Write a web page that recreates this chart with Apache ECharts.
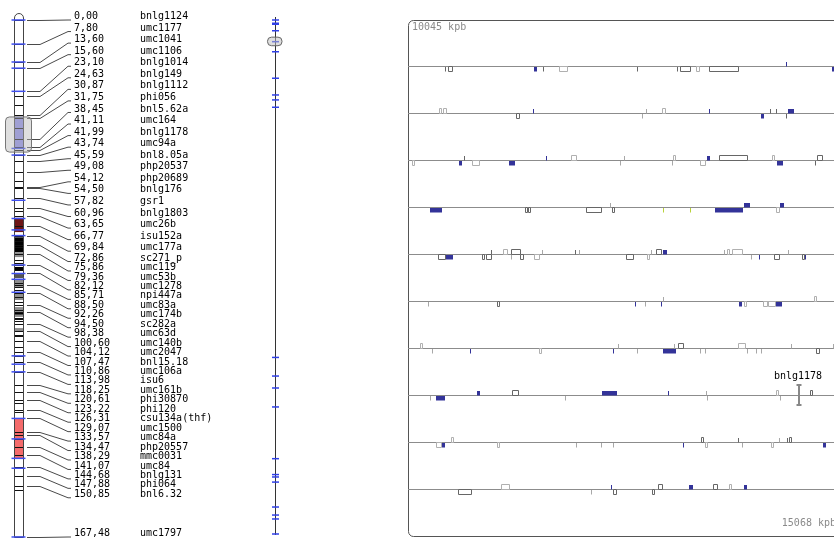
<!DOCTYPE html>
<html><head><meta charset="utf-8">
<script src="https://cdn.jsdelivr.net/npm/echarts@6/dist/echarts.min.js"></script>
<style>html,body{margin:0;padding:0;background:#fff}#c{width:834px;height:540px}</style>
</head><body><div id="c"></div>
<script>
// ---------- genetic map (cM) ----------
const markerCM = [0.00,7.80,13.60,15.60,23.10,24.63,30.87,31.75,38.45,41.11,41.99,43.74,45.59,49.08,54.12,54.50,57.82,60.96,63.65,66.77,69.84,72.86,75.86,79.36,82.12,85.71,88.50,92.26,94.50,98.38,100.60,104.12,107.47,110.86,113.98,118.25,120.61,123.22,126.31,129.07,133.57,134.47,138.29,141.07,144.68,147.88,150.85,167.48];
const markerNames = ['bnlg1124','umc1177','umc1041','umc1106','bnlg1014','bnlg149','bnlg1112','phi056','bnl5.62a','umc164','bnlg1178','umc94a','bnl8.05a','php20537','php20689','bnlg176','gsr1','bnlg1803','umc26b','isu152a','umc177a','sc271_p','umc119','umc53b','umc1278','npi447a','umc83a','umc174b','sc282a','umc63d','umc140b','umc2047','bnl15.18','umc106a','isu6','umc161b','phi30870','phi120','csu134a(thf)','umc1500','umc84a','php20557','mmc0031','umc84','bnlg131','phi064','bnl6.32','umc1797'];
const chromLenCM = 167.48;
const unlabeledCM = [27.5,35.0,52.0,58.4,62.0,71.5,73.5,77.8,78.6,85.3,86.5,87.5,89.6,91.5,93.8,96.5,96.8,97.6,102.0,102.5,106.0,108.8,124.1,127.0,135.7,142.0,152.3];
const anchoredCM = [0,7.8,13.6,15.6,23.1,41.6,43.74,58.4,64.3,68.0,69.84,79.36,82.12,84.0,88.2,108.8,111.5,113.98,129.07,135.7,142.0,145.2,167.48];
// bands: [startCM, endCM, typeIndex]
const bandStart = [31.4,64.1,70.4,75.2,80.0,82.3,84.2,88.4,93.0,94.8,99.8,129.07];
const bandEnd   = [41.6,68.7,75.2,76.8,81.3,83.6,86.8,90.7,96.2,95.4,101.0,141.9];
const bandType  = [0,1,2,4,2,3,4,4,4,2,4,5];
const regionCM = [31.4,42.8];

// ---------- physical map (Mb) ----------
const chromLenMb = 301;
const physTicksMb = [0,1.9,2.5,6.3,12.7,18.6,34.1,43.9,46.8,51.1,197.6,208.5,215.5,226.6,256.9,266.2,267.6,270.6,285.2,289.9,292.2,301];

// ---------- region view (kbp) ----------
const regionKbp = [10045,15068];
const rowCount = 10;
// genes per row: [startKb, endKb, strand(+1 above / -1 below), kind(0 blue,1 dark,2 light,3 yellow)]
const track1 = [[440,441,1,0],[43,44,-1,1],[46,52,-1,1],[147,150,-1,0],[157,158,-1,1],[176,186,-1,2],[266,267,-1,1],[313,314,-1,1],[316,329,-1,1],[335,340,-1,2],[350,385,-1,1],[493,496,-1,0]];
const track2 = [[36,40,1,2],[41,46,1,2],[145,147,1,0],[277,278,1,2],[295,300,1,2],[350,352,1,0],[421,422,1,1],[428,429,1,1],[442,449,1,0],[126,131,-1,1],[272,273,-1,2],[411,414,-1,0],[440,441,-1,1]];
const track3 = [[65,66,1,1],[160,162,1,0],[189,196,1,2],[251,252,1,2],[308,311,1,2],[348,351,1,0],[362,396,1,1],[423,426,1,2],[476,483,1,1],[5,8,-1,2],[59,63,-1,0],[74,83,-1,2],[118,125,-1,0],[246,247,-1,2],[307,308,-1,2],[340,347,-1,2],[429,436,-1,0],[473,474,-1,1]];
const track4 = [[235,236,1,2],[391,398,1,0],[433,438,1,0],[26,40,-1,0],[136,140,-1,1],[140,144,-1,1],[207,226,-1,1],[237,241,-1,1],[297,298,-1,3],[328,329,-1,3],[357,390,-1,0],[428,433,-1,2]];
const track5 = [[97,98,1,1],[110,116,1,2],[120,132,1,1],[156,157,1,2],[194,195,1,1],[199,200,1,2],[282,283,1,2],[288,295,1,1],[296,301,1,0],[368,370,1,2],[371,374,1,2],[377,390,1,2],[442,443,1,2],[35,44,-1,1],[44,52,-1,0],[86,90,-1,1],[91,98,-1,1],[120,121,-1,2],[130,135,-1,1],[147,154,-1,2],[253,262,-1,1],[278,282,-1,2],[399,400,-1,2],[408,409,-1,0],[425,432,-1,1],[458,462,-1,1],[462,464,-1,0]];
const track6 = [[297,298,1,2],[472,476,1,2],[23,25,-1,2],[104,107,-1,1],[264,265,-1,0],[276,277,-1,2],[294,295,-1,0],[385,389,-1,0],[391,394,-1,2],[413,419,-1,2],[419,428,-1,2],[428,435,-1,0]];
const track7 = [[14,17,1,2],[244,245,1,2],[309,310,1,2],[314,321,1,1],[384,393,1,2],[445,446,1,2],[494,495,1,2],[28,29,-1,2],[72,73,-1,0],[152,155,-1,2],[238,239,-1,0],[266,267,-1,2],[297,312,-1,0],[340,341,-1,2],[345,346,-1,2],[394,395,-1,2],[405,406,-1,2],[410,411,-1,2],[474,479,-1,1]];
const track8 = [[80,84,1,0],[121,129,1,1],[225,243,1,0],[302,304,1,0],[347,348,1,2],[428,431,1,2],[467,470,1,1],[26,28,-1,2],[33,44,-1,0],[182,184,-1,2],[348,349,-1,2],[433,434,-1,2]];
const track9 = [[50,54,1,2],[341,345,1,1],[384,386,1,1],[431,433,1,2],[441,443,1,1],[443,446,1,1],[32,39,-1,2],[39,43,-1,0],[103,106,-1,2],[195,196,-1,2],[224,225,-1,2],[238,239,-1,2],[320,321,-1,0],[345,349,-1,2],[388,389,-1,2],[422,425,-1,2],[482,485,-1,0]];
const track10 = [[108,118,1,2],[236,237,1,0],[291,297,1,1],[327,332,1,0],[355,361,1,1],[373,377,1,2],[391,394,1,0],[58,74,-1,1],[213,214,-1,2],[238,243,-1,1],[284,287,-1,1]];
const regionMarkerNames = ['bnlg1178'];
const regionMarkerRow = [7];
const regionMarkerKb = [455];

// ---------- styles ----------
const FONT = '10px "DejaVu Sans Mono", monospace';
const BAND_COLORS = ['#8a8aea','#6e1616','#000000','#555555','#8f8f8f','#f46b6b'];
const GENE_STYLE = [
  {fill:'#333399', tick:'#333399'},
  {stroke:'#666666', tick:'#666666'},
  {stroke:'#b0b0b0', tick:'#a8a8a8'},
  {fill:'#b8d23a', tick:'#b8d23a'}
];
const X = {chromL:14, chromR:23, conn0:27, conn1:40, conn2:68, conn3:71, numX:74, nameX:140, phys:275};
const LABEL_MIN_GAP = 9.45, LABEL_PREF_GAP = 11.56;

const rowLen = (regionKbp[1]-regionKbp[0])/rowCount;
const tracks = [track1,track2,track3,track4,track5,track6,track7,track8,track9,track10];
const geneData = [];
tracks.forEach((t,r)=>t.forEach(g=>geneData.push([r,g[0],g[1],g[2],g[3]])));
const fmt = v => v.toFixed(2).replace('.', ',');

// label layout: packed top-down (never closer than min gap), but stacked at the
// preferred gap from the top whenever that keeps a label above its packed slot
let labelY = null;
function layoutLabels(api){
  if (labelY) return labelY;
  const t = markerCM.map(c => api.coord([0,c])[1]);
  const n = t.length, p = [];
  for (let i=0;i<n;i++) p[i] = i ? Math.max(t[i], p[i-1]+LABEL_MIN_GAP) : t[i];
  labelY = p.map((v,i)=> i===n-1 ? v : Math.min(v, t[0]+i*LABEL_PREF_GAP));
  return labelY;
}

const chart = echarts.init(document.getElementById('c'));
const hidden = {show:false};
const option = {
  backgroundColor:'#fff',
  animation:false,
  grid:[
    {left:0, top:20, width:834, height:517, outerBoundsMode:'none', containLabel:false},
    {left:0, top:20, width:834, height:514, outerBoundsMode:'none', containLabel:false},
    {left:408, top:20, width:432, height:517, outerBoundsMode:'none', containLabel:false}
  ],
  xAxis:[
    {type:'value', gridIndex:0, min:0, max:834, ...hidden},
    {type:'value', gridIndex:1, min:0, max:834, ...hidden},
    {type:'value', gridIndex:2, min:0, max:rowLen, ...hidden}
  ],
  yAxis:[
    {type:'value', gridIndex:0, min:0, max:chromLenCM, inverse:true, ...hidden},
    {type:'value', gridIndex:1, min:0, max:chromLenMb, inverse:true, ...hidden},
    {type:'value', gridIndex:2, min:0, max:rowCount+1, inverse:true, ...hidden}
  ],
  graphic:[
    {type:'rect', z:1, shape:{x:408.5, y:20.5, width:440, height:516, r:5}, style:{fill:'none', stroke:'#555', lineWidth:1}},
    {type:'text', z:5, x:412, y:27, style:{text: regionKbp[0]+' kpb', font:FONT, fill:'#8a8a8a', align:'left', verticalAlign:'middle'}},
    {type:'text', z:5, x:836, y:523.5, style:{text: regionKbp[1]+' kpb', font:FONT, fill:'#8a8a8a', align:'right', verticalAlign:'middle'}}
  ],
  series:[
    // chromosome body
    {type:'custom', xAxisIndex:0, yAxisIndex:0, z:1, data:[[0, chromLenCM]],
      renderItem:(p,api)=>{
        const a = api.coord([X.chromL, api.value(0)]), b = api.coord([X.chromR, api.value(1)]);
        return {type:'rect', shape:{x:a[0]+0.5, y:a[1]-6, width:b[0]-a[0], height:b[1]-a[1]+6, r:[4.5,4.5,0,0]}, style:{fill:'#fff', stroke:null}};
      }},
    // bands
    {type:'custom', xAxisIndex:0, yAxisIndex:0, z:2, data:bandStart.map((s,i)=>[s,bandEnd[i],bandType[i]]),
      renderItem:(p,api)=>{
        const a = api.coord([X.chromL, api.value(0)]), b = api.coord([X.chromR, api.value(1)]);
        return {type:'rect', shape:{x:a[0]+0.5, y:a[1], width:b[0]-a[0], height:b[1]-a[1]}, style:{fill:BAND_COLORS[api.value(2)]}};
      }},
    // marker lines on chromosome
    {type:'custom', xAxisIndex:0, yAxisIndex:0, z:3, data:markerCM.concat(unlabeledCM).map(c=>[c]),
      renderItem:(p,api)=>{
        const a = api.coord([X.chromL, api.value(0)]), b = api.coord([X.chromR, api.value(0)]);
        const y = Math.round(a[1])+0.5;
        return {type:'line', shape:{x1:a[0]+0.5, y1:y, x2:b[0]+0.5, y2:y}, style:{stroke:'#111', lineWidth:1}};
      }},
    // chromosome outline
    {type:'custom', xAxisIndex:0, yAxisIndex:0, z:4, data:[[0, chromLenCM]],
      renderItem:(p,api)=>{
        const a = api.coord([X.chromL, api.value(0)]), b = api.coord([X.chromR, api.value(1)]);
        return {type:'rect', shape:{x:a[0]+0.5, y:a[1]-6.5, width:b[0]-a[0], height:b[1]-a[1]+6.5, r:[4.5,4.5,0,0]}, style:{fill:'none', stroke:'#444', lineWidth:1}};
      }},
    // anchored (blue) ticks
    {type:'custom', xAxisIndex:0, yAxisIndex:0, z:5, data:anchoredCM.map(c=>[c]),
      renderItem:(p,api)=>{
        const a = api.coord([X.chromL-2.5, api.value(0)]), b = api.coord([X.chromR+2.5, api.value(0)]);
        return {type:'line', shape:{x1:a[0], y1:a[1], x2:b[0], y2:b[1]}, style:{stroke:'#3f4ff0', lineWidth:1.5}};
      }},
    // region overlay on chromosome
    {type:'custom', xAxisIndex:0, yAxisIndex:0, z:6, data:[regionCM],
      renderItem:(p,api)=>{
        const a = api.coord([5.5, api.value(0)]), b = api.coord([31.5, api.value(1)]);
        return {type:'rect', shape:{x:a[0], y:a[1], width:b[0]-a[0], height:b[1]-a[1], r:4}, style:{fill:'rgba(185,185,185,0.45)', stroke:'#777', lineWidth:1}};
      }},
    // connectors and labels
    {type:'custom', xAxisIndex:0, yAxisIndex:0, z:3, data:markerCM.map((c,i)=>[i,c]),
      renderItem:(p,api)=>{
        const ly = layoutLabels(api);
        const i = api.value(0), c = api.value(1);
        const ty = Math.round(api.coord([0,c])[1])+0.5;
        const l = ly[i];
        const x0 = api.coord([X.conn0,c])[0], x1 = api.coord([X.conn1,c])[0], x2 = api.coord([X.conn2,c])[0], x3 = api.coord([X.conn3,c])[0];
        return {type:'group', children:[
          {type:'polyline', shape:{points:[[x0,ty],[x1,ty],[x2,l],[x3,l]]}, style:{stroke:'#4a4a4a', lineWidth:1, fill:null}},
          {type:'text', x:api.coord([X.numX,c])[0], y:l-3.5, style:{text:fmt(c), font:FONT, fill:'#000', align:'left', verticalAlign:'middle'}},
          {type:'text', x:api.coord([X.nameX,c])[0], y:l-3.5, style:{text:markerNames[i], font:FONT, fill:'#000', align:'left', verticalAlign:'middle'}}
        ]};
      }},
    // physical map axis line
    {type:'custom', xAxisIndex:1, yAxisIndex:1, z:2, data:[[0, chromLenMb]],
      renderItem:(p,api)=>{
        const a = api.coord([X.phys, api.value(0)]), b = api.coord([X.phys, api.value(1)]);
        return {type:'line', shape:{x1:a[0]+0.5, y1:a[1]-3, x2:b[0]+0.5, y2:b[1]+1}, style:{stroke:'#333', lineWidth:1}};
      }},
    // physical ticks
    {type:'custom', xAxisIndex:1, yAxisIndex:1, z:3, data:physTicksMb.map(v=>[v]),
      renderItem:(p,api)=>{
        const a = api.coord([X.phys-3, api.value(0)]), b = api.coord([X.phys+4, api.value(0)]);
        return {type:'line', shape:{x1:a[0], y1:a[1], x2:b[0], y2:b[1]}, style:{stroke:'#3040e8', lineWidth:1.5}};
      }},
    // physical region box
    {type:'custom', xAxisIndex:1, yAxisIndex:1, z:4, data:[[regionKbp[0]/1000, regionKbp[1]/1000]],
      renderItem:(p,api)=>{
        const a = api.coord([X.phys-7.5, api.value(0)]), b = api.coord([X.phys+7, api.value(1)]);
        return {type:'rect', shape:{x:a[0], y:a[1], width:b[0]-a[0], height:b[1]-a[1], r:4}, style:{fill:'rgba(190,190,190,0.5)', stroke:'#666', lineWidth:1}};
      }},
    // region rows
    {type:'custom', xAxisIndex:2, yAxisIndex:2, z:2, data:Array.from({length:rowCount},(_,r)=>[r]),
      renderItem:(p,api)=>{
        const a = api.coord([0, api.value(0)+1]), b = api.coord([rowLen, api.value(0)+1]);
        const y = Math.round(a[1])-0.5;
        return {type:'line', shape:{x1:a[0], y1:y, x2:b[0], y2:y}, style:{stroke:'#8c8c8c', lineWidth:1}};
      }},
    // genes
    {type:'custom', xAxisIndex:2, yAxisIndex:2, z:3, data:geneData,
      renderItem:(p,api)=>{
        const r = api.value(0), s = api.value(1), e = api.value(2), strand = api.value(3), k = GENE_STYLE[api.value(4)];
        const a = api.coord([s, r+1]), b = api.coord([e, r+1]);
        const L = Math.round(a[1]);
        let x = Math.round(a[0]), w = Math.max(1, Math.round(b[0]-a[0]));
        if (w <= 2) {
          return {type:'rect', shape:{x:x, y: strand>0 ? L-5 : L, width:1, height:4.5}, style:{fill:k.tick}};
        }
        if (k.fill) {
          return {type:'rect', shape:{x:x, y: strand>0 ? L-5 : L, width:w, height:4.5}, style:{fill:k.fill}};
        }
        return {type:'rect', shape:{x:x+0.5, y: strand>0 ? L-5.5 : L-0.5, width:w-1, height:5}, style:{fill:'#fff', stroke:k.stroke, lineWidth:1}};
      }},
    // region marker
    {type:'custom', xAxisIndex:2, yAxisIndex:2, z:4, data:regionMarkerKb.map((kb,i)=>[kb, regionMarkerRow[i], i]),
      renderItem:(p,api)=>{
        const q = api.coord([api.value(0), api.value(1)+1]);
        const x = Math.round(q[0]), L = Math.round(q[1]);
        return {type:'group', children:[
          {type:'rect', shape:{x:x-1, y:L-11, width:2, height:20}, style:{fill:'#888'}},
          {type:'rect', shape:{x:x-2.5, y:L-12, width:5, height:2}, style:{fill:'#888'}},
          {type:'rect', shape:{x:x-2.5, y:L+8, width:5, height:2}, style:{fill:'#888'}},
          {type:'text', x:x-1, y:L-19.5, style:{text:regionMarkerNames[api.value(2)], font:FONT, fill:'#000', align:'center', verticalAlign:'middle'}}
        ]};
      }}
  ]
};
chart.setOption(option);
</script>
</body></html>
